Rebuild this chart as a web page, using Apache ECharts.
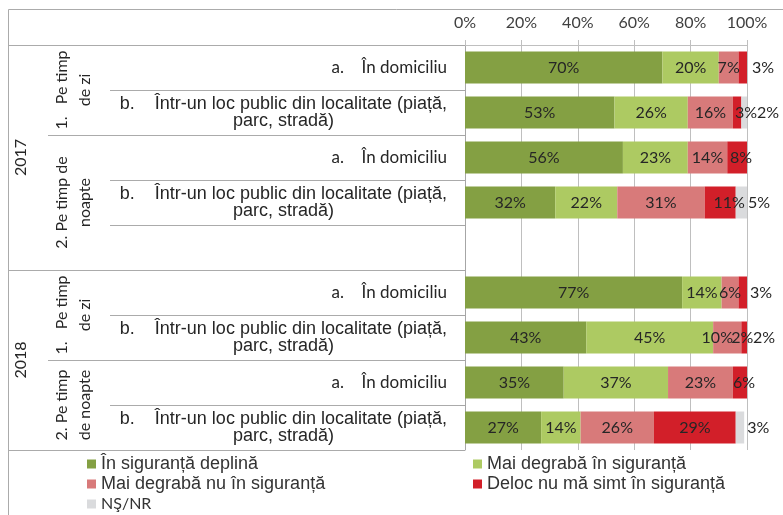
<!DOCTYPE html>
<html>
<head>
<meta charset="utf-8">
<script src="https://cdn.jsdelivr.net/npm/echarts@6/dist/echarts.min.js"></script>
<style>
  html, body { margin: 0; padding: 0; background: #fff; }
  #container { width: 783px; height: 515px; }
</style>
</head>
<body>
<div id="container"></div>
<script>
  // rows from top to bottom, '' is the empty slot between 2017 and 2018
  let rowKinds = ['a', 'b', 'a', 'b', '', 'a', 'b', 'a', 'b'];
  let seriesNames = [
    'În siguranță deplină',
    'Mai degrabă în siguranță',
    'Mai degrabă nu în siguranță',
    'Deloc nu mă simt în siguranță',
    'NŞ/NR'
  ];
  let deplina = [70, 53, 56, 32, null, 77, 43, 35, 27];
  let maiDegraba = [20, 26, 23, 22, null, 14, 45, 37, 14];
  let maiDegrabaNu = [7, 16, 14, 31, null, 6, 10, 23, 26];
  let deloc = [3, 3, 8, 11, null, 3, 2, 6, 29];
  let nsnr = [null, 2, null, 5, null, null, 2, null, 3];
  let years = [
    {text: '2017', from: 0, to: 4},
    {text: '2018', from: 5, to: 8}
  ];
  let periods = [
    {text: '1.   Pe timp\nde zi', from: 0, to: 1},
    {text: '2. Pe timp de\nnoapte', from: 2, to: 4},
    {text: '1.   Pe timp\nde zi', from: 5, to: 6},
    {text: '2. Pe timp\nde noapte', from: 7, to: 8}
  ];

  let colors = ['#84a043', '#adca62', '#d87a7a', '#d21f29', '#dadbdd'];
  let lineColor = '#ababab';
  // left x where each row boundary line of the table starts
  let lineStarts = [8, 110, 48, 110, 110, 8, 110, 48, 110, 8];
  // hand-placed labels for the narrow segments (series-row)
  let labelTweaks = {
    '3-0': {position: 'right', distance: 5},
    '3-1': {position: 'insideLeft', distance: 2},
    '4-1': {position: 'right', distance: 10},
    '3-2': {offset: [4, 0]},
    '3-3': {offset: [9, 0]},
    '4-3': {position: 'right', distance: 1},
    '3-5': {position: 'right', distance: 3},
    '2-6': {offset: [-10, 0]},
    '3-6': {offset: [-2, 0]},
    '4-6': {position: 'right', distance: 6},
    '3-7': {offset: [4, 0]},
    '4-8': {position: 'right', distance: 3}
  };

  let allValues = [deplina, maiDegraba, maiDegrabaNu, deloc, nsnr];
  let series = allValues.map((vals, s) => ({
    name: seriesNames[s],
    type: 'bar',
    stack: 'total',
    barWidth: 32,
    itemStyle: {color: colors[s]},
    label: {
      show: true,
      position: 'inside',
      color: '#262626',
      fontFamily: 'Lato',
      fontSize: 16,
      formatter: p => p.value + '%'
    },
    data: vals.map((v, r) => {
      let t = labelTweaks[s + '-' + r];
      return t ? {value: v, label: t} : v;
    })
  }));

  let legendText = {fontFamily: 'Liberation Sans', fontSize: 18, color: '#333', lineHeight: 18};

  let myChart = echarts.init(document.getElementById('container'));
  let option = {
    animation: false,
    color: colors,
    grid: {left: 465, right: 36, top: 45, bottom: 65, containLabel: false, outerBoundsMode: 'none'},
    xAxis: {
      type: 'value',
      position: 'top',
      min: 0,
      max: 100,
      interval: 20,
      axisLine: {show: true, lineStyle: {color: '#bfbfbf'}},
      axisTick: {show: true, length: 5, lineStyle: {color: '#bfbfbf'}},
      splitLine: {show: true, lineStyle: {color: '#bfbfbf', type: 'solid'}},
      axisLabel: {formatter: '{value}%', color: '#404040', fontFamily: 'Lato', fontSize: 16, margin: 14}
    },
    yAxis: {
      type: 'category',
      inverse: true,
      data: rowKinds,
      axisLine: {show: true, lineStyle: {color: '#a6a6a6'}},
      axisTick: {show: true, length: 5, lineStyle: {color: '#a6a6a6'}},
      splitLine: {show: false},
      axisLabel: {
        interval: 0,
        margin: 18,
        align: 'right',
        color: '#262626',
        formatter: function (value) {
          if (value === 'a') {
            return '{a|a.}{ta|În domiciliu}';
          }
          if (value === 'b') {
            return '{b|b.}{tb|Într-un loc public din localitate (piață,}\n{tc|parc, stradă)}';
          }
          return '';
        },
        rich: {
          a: {width: 30, align: 'left', fontFamily: 'Lato', fontSize: 17, color: '#262626'},
          ta: {align: 'right', fontFamily: 'Lato', fontSize: 17, color: '#262626'},
          b: {width: 35, align: 'left', fontFamily: 'Liberation Sans', fontSize: 18, lineHeight: 17, color: '#262626'},
          tb: {align: 'right', fontFamily: 'Liberation Sans', fontSize: 18, lineHeight: 17, color: '#262626'},
          tc: {align: 'center', fontFamily: 'Liberation Sans', fontSize: 18, lineHeight: 17, color: '#262626'}
        }
      }
    },
    legend: [{
      orient: 'vertical',
      left: 87,
      top: 455,
      height: 80,
      padding: 0,
      icon: 'rect',
      itemWidth: 9,
      itemHeight: 9,
      itemGap: 2,
      textStyle: legendText,
      data: [seriesNames[0], seriesNames[2], {name: seriesNames[4], textStyle: {fontFamily: 'Lato', fontSize: 16}}]
    }, {
      orient: 'vertical',
      left: 473,
      top: 455,
      height: 80,
      padding: 0,
      icon: 'rect',
      itemWidth: 9,
      itemHeight: 9,
      itemGap: 2,
      textStyle: legendText,
      data: [seriesNames[1], seriesNames[3]]
    }],
    series: series
  };
  myChart.setOption(option);

  // table lines and rotated group labels on the left, placed from the category axis
  let yAt = i => myChart.convertToPixel({yAxisIndex: 0}, i);
  let band = yAt(1) - yAt(0);
  let axisX = myChart.convertToPixel({xAxisIndex: 0}, 0);
  let elements = [];
  elements.push({
    type: 'polyline',
    shape: {points: [[8.5, 530], [8.5, 9.5], [800, 9.5]]},
    style: {stroke: lineColor, fill: 'none', lineWidth: 1}
  });
  lineStarts.forEach((x, i) => {
    let y = Math.round(yAt(0) - band / 2 + i * band) + 0.5;
    elements.push({
      type: 'line',
      shape: {x1: x, y1: y, x2: axisX, y2: y},
      style: {stroke: lineColor, lineWidth: 1}
    });
  });
  let groupText = (g, x) => ({
    type: 'text',
    x: x,
    y: (yAt(g.from) + yAt(g.to)) / 2,
    rotation: Math.PI / 2,
    style: {
      text: g.text,
      fontFamily: 'Lato',
      fontSize: 16,
      lineHeight: 23,
      fill: '#262626',
      align: 'center',
      verticalAlign: 'middle',
      textAlign: 'center',
      textVerticalAlign: 'middle'
    }
  });
  years.forEach(g => elements.push(groupText(g, 21)));
  periods.forEach(g => elements.push(groupText(g, 73)));
  myChart.setOption({graphic: elements});
</script>
</body>
</html>
